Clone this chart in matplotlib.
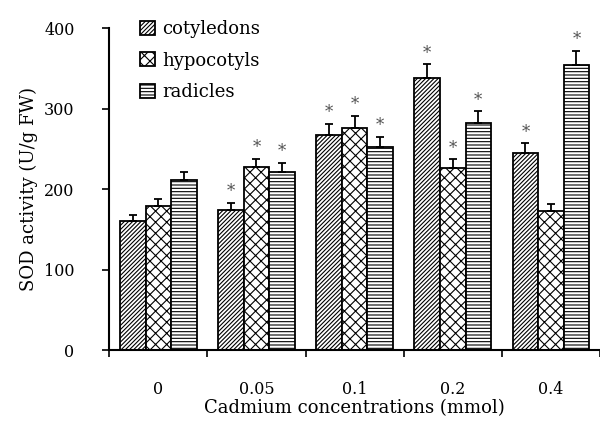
import numpy as np
import matplotlib
matplotlib.use("Agg")
import matplotlib.pyplot as plt

plt.rcParams['font.family'] = ['DejaVu Serif']
plt.rcParams['hatch.linewidth'] = 0.8

# data
conc = ['0', '0.05', '0.1', '0.2', '0.4']
series = ['cotyledons', 'hypocotyls', 'radicles']
cotyledons = [160, 174, 267, 338, 245]
hypocotyls = [179, 227, 276, 226, 173]
radicles = [211, 221, 252, 282, 354]
cot_err = [8, 9, 14, 17, 12]
hyp_err = [9, 11, 15, 11, 9]
rad_err = [10, 12, 13, 15, 18]
# significance stars (1 = marked)
cot_sig = [0, 1, 1, 1, 1]
hyp_sig = [0, 1, 1, 1, 0]
rad_sig = [0, 1, 1, 1, 1]

values = [cotyledons, hypocotyls, radicles]
errors = [cot_err, hyp_err, rad_err]
sigs = [cot_sig, hyp_sig, rad_sig]
hatches = ['////////', 'xxx', '-----']

fig = plt.figure(figsize=(6, 4.25), dpi=100)
ax = fig.add_axes([0.182, 0.176, 0.818, 0.758])

x = np.arange(len(conc))
w = 0.26
for i in range(3):
    pos = x + (i - 1) * w
    v = np.array(values[i])
    e = np.array(errors[i])
    ax.bar(pos, v, w, color='white', edgecolor='black', linewidth=1.3,
           hatch=hatches[i], label=series[i], zorder=2)
    ax.errorbar(pos, v, yerr=[np.zeros_like(e), e], fmt='none', ecolor='black',
                elinewidth=1.3, capsize=3, capthick=1.3, zorder=3)
    for j in range(len(conc)):
        if sigs[i][j]:
            ax.text(pos[j], v[j] + e[j] + 3, '*', ha='center', va='bottom',
                    fontsize=12, color='#555555')

ax.set_xlim(-0.5, 4.5)
ax.set_ylim(0, 400)
ax.set_yticks([0, 100, 200, 300, 400])
ax.set_xticks(x)
ax.set_xticklabels(conc)
ax.set_xticks(np.arange(-0.5, 4.6, 1), minor=True)
ax.tick_params(axis='x', which='major', length=0, pad=22, labelsize=11.5)
ax.tick_params(axis='x', which='minor', length=5, width=1.2, direction='out')
ax.tick_params(axis='y', length=5, width=1.2, direction='out', labelsize=11.5, pad=20)
ax.spines['top'].set_visible(False)
ax.spines['right'].set_visible(False)
ax.spines['left'].set_linewidth(1.5)
ax.spines['bottom'].set_linewidth(1.5)
ax.set_xlabel('Cadmium concentrations (mmol)', fontsize=13, labelpad=1)
ax.set_ylabel('SOD activity (U/g FW)', fontsize=13, labelpad=4)

ax.legend(loc='upper left', bbox_to_anchor=(0.03, 1.075), frameon=False,
          handlelength=0.8, handleheight=0.8, handletextpad=0.4,
          labelspacing=0.75, fontsize=13)

fig.savefig('out.png', dpi=100)
